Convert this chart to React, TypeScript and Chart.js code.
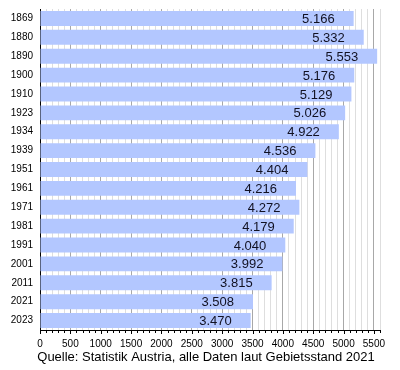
import { useEffect, useRef } from 'react';
import { Chart, registerables } from 'chart.js';

Chart.register(...registerables);

const years = ['1869', '1880', '1890', '1900', '1910', '1923', '1934', '1939', '1951', '1961', '1971', '1981', '1991', '2001', '2011', '2021', '2023'];
const population = [5166, 5332, 5553, 5176, 5129, 5026, 4922, 4536, 4404, 4216, 4272, 4179, 4040, 3992, 3815, 3508, 3470];
const xMax = 5600;
const minorStep = 100;
const majorStep = 500;
const caption = 'Quelle: Statistik Austria, alle Daten laut Gebietsstand 2021';

const FONT = '"Liberation Sans", Arial, Helvetica, sans-serif';

const fmt = (v: number) => {
  const s = String(v);
  return s.length > 3 ? s.slice(0, s.length - 3) + '.' + s.slice(s.length - 3) : s;
};

const extrasPlugin = {
  id: 'extras',
  afterDatasetsDraw(chart: any) {
    const ctx = chart.ctx;
    const meta = chart.getDatasetMeta(0);
    ctx.save();
    ctx.font = `13px ${FONT}`;
    ctx.fillStyle = '#111122';
    ctx.textAlign = 'right';
    ctx.textBaseline = 'middle';
    meta.data.forEach((bar: any, i: number) => {
      ctx.fillText(fmt(population[i]), bar.x - 19, bar.y + 1);
    });
    ctx.restore();
  },
  afterDraw(chart: any) {
    const ctx = chart.ctx;
    const xs = chart.scales.x;
    const area = chart.chartArea;
    ctx.save();
    ctx.strokeStyle = '#000';
    ctx.lineWidth = 1;
    ctx.beginPath();
    for (let v = 0; v <= xMax; v += minorStep) {
      const px = Math.round(xs.getPixelForValue(v)) + 0.5;
      const len = v % majorStep === 0 ? 4 : 3;
      ctx.moveTo(px, area.bottom);
      ctx.lineTo(px, area.bottom + len);
    }
    ctx.stroke();
    ctx.font = `13px ${FONT}`;
    ctx.fillStyle = '#000';
    ctx.textAlign = 'center';
    ctx.textBaseline = 'middle';
    ctx.fillText(caption, 206, 357);
    ctx.restore();
  },
};

export default function App() {
  const ref = useRef<HTMLCanvasElement | null>(null);
  useEffect(() => {
    if (!ref.current) return;
    const chart = new Chart(ref.current, {
      type: 'bar',
      data: {
        labels: years,
        datasets: [
          {
            data: population,
            backgroundColor: '#b3c7ff',
            borderWidth: 0,
            barPercentage: 0.79,
            categoryPercentage: 1,
          },
        ],
      },
      options: {
        indexAxis: 'y',
        responsive: false,
        animation: false,
        devicePixelRatio: 1,
        layout: { padding: { left: 0, right: 20, top: 9, bottom: 18 } },
        plugins: {
          legend: { display: false },
          tooltip: { enabled: false },
          title: { display: false },
        },
        scales: {
          x: {
            min: 0,
            max: xMax,
            afterFit: (s: any) => {
              s.height = 22;
              s.paddingLeft = 0;
              s.paddingRight = 0;
            },
            border: { display: true, color: '#000', width: 1 },
            grid: {
              drawTicks: false,
              color: (c: any) => (c.tick && c.tick.value % majorStep === 0 ? '#a8a8a8' : '#dedede'),
              lineWidth: 1,
            },
            ticks: {
              stepSize: minorStep,
              autoSkip: false,
              maxRotation: 0,
              padding: 8,
              color: '#000',
              font: { family: FONT, size: 10 },
              callback: (v: any) => (Number(v) % majorStep === 0 && Number(v) < xMax ? String(v) : ''),
            },
          },
          y: {
            afterFit: (s: any) => {
              s.width = 40;
              s.paddingTop = 0;
              s.paddingBottom = 0;
            },
            border: { display: true, color: '#000', width: 1 },
            grid: { display: false, drawTicks: false },
            ticks: {
              padding: 7,
              color: '#000',
              font: { family: FONT, size: 10 },
            },
          },
        },
      },
      plugins: [extrasPlugin],
    });
    return () => chart.destroy();
  }, []);
  return (
    <div style={{ position: 'fixed', left: 0, top: 0, width: 400, height: 370, background: '#fff' }}>
      <canvas ref={ref} width={400} height={370} style={{ width: 400, height: 370 }} />
    </div>
  );
}
